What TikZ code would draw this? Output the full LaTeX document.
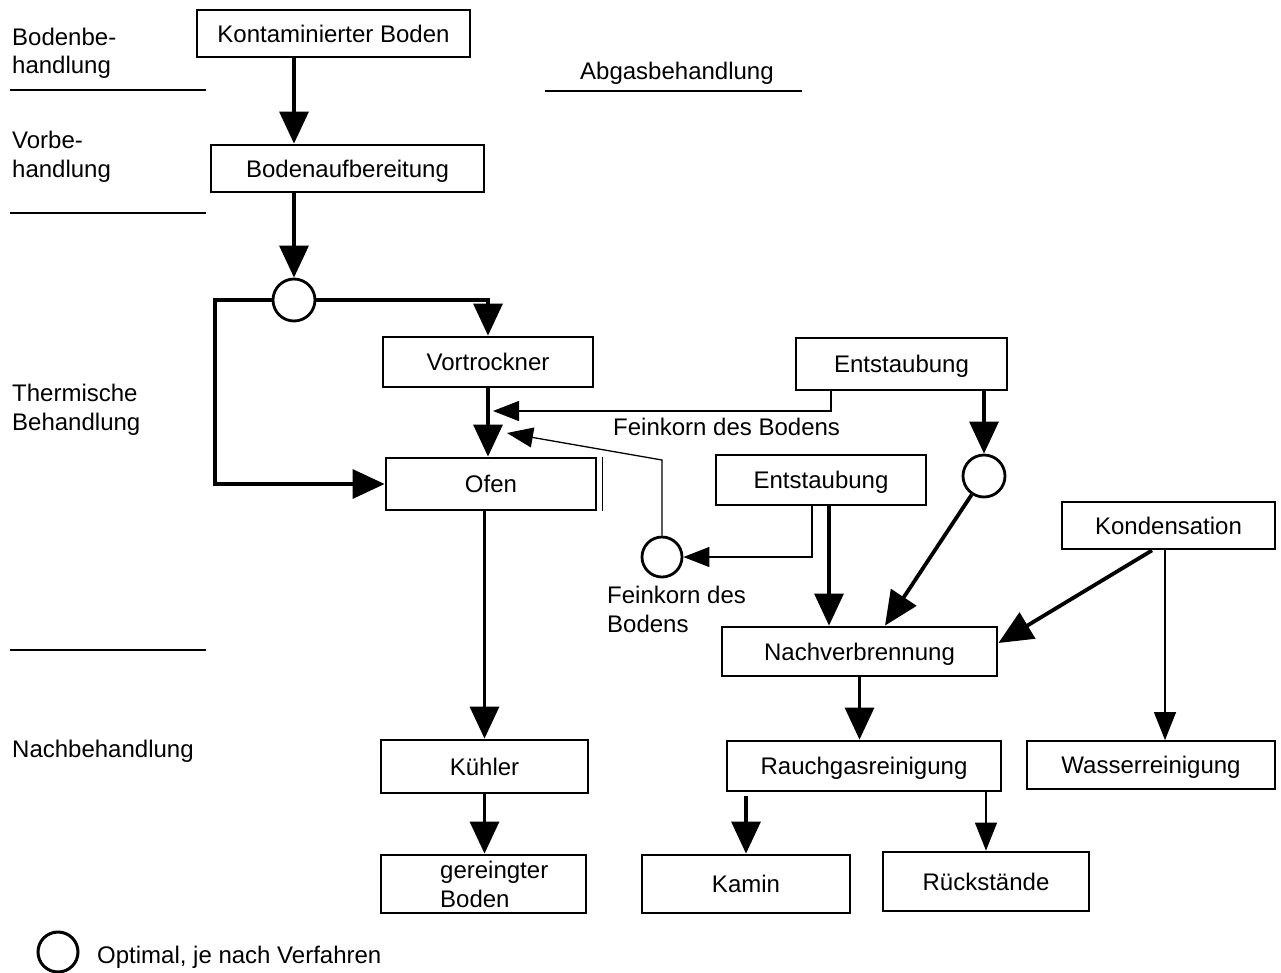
\documentclass[tikz,border=0pt]{standalone}
\usepackage{fontspec}
\setmainfont{Liberation Sans}
\usetikzlibrary{arrows.meta,calc}
\begin{document}
\begin{tikzpicture}[x=1pt,y=-1pt,
  every node/.style={font=\fontsize{24}{29}\selectfont},
  box/.style={draw, line width=2.8pt, inner sep=0pt, text height=17pt, text depth=0pt, fill=white},
  lbl/.style={anchor=base west, inner sep=0pt},
  opt/.style={draw, circle, line width=2.8pt, fill=white, inner sep=0pt},
  flow/.style={line width=3.2pt, -{Triangle[length=32pt,width=29pt]}},
  diagflow/.style={line width=3.8pt, -{Triangle[length=34pt,width=30pt]}},
  fine/.style={line width=1.3pt, -{Triangle[length=26pt,width=20pt]}},
  thinflow/.style={line width=1.3pt, -{Triangle[length=28pt,width=22pt]}},
  divider/.style={line width=1.3pt},
  thickdivider/.style={line width=2.8pt}
]
\useasboundingbox (0,0) rectangle (1281,972);

% left section labels
\node[lbl] (s1a) at (12,45) {Bodenbe-};
\node[lbl] (s1b) at (12,73) {handlung};
\draw[thickdivider] (10,90) -- (206,90);
\node[lbl] (s2a) at (12,148) {Vorbe-};
\node[lbl] (s2b) at (12,177) {handlung};
\draw[divider] (10,213) -- (206,213);
\node[lbl] (s3a) at (12,401) {Thermische};
\node[lbl] (s3b) at (12,430) {Behandlung};
\draw[divider] (10,650) -- (206,650);
\node[lbl] (s4) at (12,757) {Nachbehandlung};
\node[lbl] (abg) at (580,79) {Abgasbehandlung};
\draw[thickdivider] (545,91) -- (802,91);

% boxes
\node[box, minimum width=273pt, minimum height=47pt] (kont) at (333.5,33.5) {Kontaminierter Boden};
\node[box, minimum width=273pt, minimum height=47pt] (aufb) at (347.5,168.5) {Bodenaufbereitung};
\node[opt, minimum size=42pt] (c1) at (294,300) {};
\node[box, minimum width=210pt, minimum height=50pt] (vort) at (488,362) {Vortrockner};
\node[box, minimum width=210pt, minimum height=52pt] (ofen) at (491,484) {Ofen};
\node[box, minimum width=211pt, minimum height=52pt] (ent1) at (901.5,364) {Entstaubung};
\node[box, minimum width=210pt, minimum height=50pt] (ent2) at (821,480) {Entstaubung};
\node[opt, minimum size=42pt] (c2) at (984,476) {};
\node[opt, minimum size=40pt] (c3) at (662,557) {};
\node[box, minimum width=213pt, minimum height=47pt] (kond) at (1168.5,525.5) {Kondensation};
\node[box, minimum width=275pt, minimum height=49pt] (nach) at (859.5,651.5) {Nachverbrennung};
\node[box, minimum width=274pt, minimum height=50pt] (rauch) at (864,766) {Rauchgasreinigung};
\node[box, line width=1.8pt, minimum width=248pt, minimum height=48pt] (wasser) at (1151,765) {Wasserreinigung};
\node[box, minimum width=207pt, minimum height=53pt] (kuehl) at (484.5,766.5) {Kühler};
\node[box, minimum width=205pt, minimum height=58pt] (gerein) at (483.5,884) {};
\node[lbl] (gt1) at (440,878) {gereingter};
\node[lbl] (gt2) at (440,907) {Boden};
\node[box, minimum width=208pt, minimum height=58pt] (kamin) at (746,884) {Kamin};
\node[box, minimum width=206pt, minimum height=59pt] (rueck) at (986,881.5) {Rückstände};

% extra line beside Ofen
\draw[line width=1pt] ([xshift=5pt]ofen.north east) -- ([xshift=5pt]ofen.south east);

% labels
\node[lbl] (fk1) at (613,435) {Feinkorn des Bodens};
\node[lbl] (fk2a) at (607,603) {Feinkorn des};
\node[lbl] (fk2b) at (607,632) {Bodens};

% connectors
\draw[flow] (kont.south -| c1) -- (aufb.north -| c1);
\draw[flow] (aufb.south -| c1) -- (c1.north);
\coordinate (byp) at (215,390);
\draw[flow] (c1.west) -| (byp) |- (ofen.west);
\draw[flow] (c1.east) -| (vort.north);
\draw[flow] (vort.south) -- (vort.south |- ofen.north);
\draw[flow] (kuehl.north |- ofen.south) -- (kuehl.north);
\draw[flow] (kuehl.south) -- (kuehl.south |- gerein.north);

\coordinate (f1) at (831,411);
\coordinate (f1tip) at (493,411);
\draw[fine] (ent1.south -| f1) -- (f1) -- (f1tip);
\draw[flow] (ent1.south -| c2) -- (c2.north);
\draw[diagflow] (c2) -- ([xshift=25.5pt]nach.north);
\draw[flow] ([xshift=8pt]ent2.south) -- ([xshift=8pt]ent2.south |- nach.north);
\draw[fine] ([xshift=-9pt]ent2.south) |- (c3.east);
\coordinate (f2bend) at (662,460);
\coordinate (f2tip) at (507,433);
\draw[fine] (c3.north) -- (f2bend) -- (f2tip);
\draw[diagflow] ([xshift=-16.5pt]kond.south) -- ([yshift=8.5pt]nach.east);
\draw[thinflow] ([xshift=-3.5pt]kond.south) -- ([xshift=-3.5pt]kond.south |- wasser.north);
\draw[flow] (nach.south) -- (nach.south |- rauch.north);
\draw[flow, shorten <=4pt] (kamin.north |- rauch.south) -- (kamin.north);
\draw[thinflow] (rueck.north |- rauch.south) -- (rueck.north);

% legend
\node[opt, line width=3pt, minimum size=40pt] (legc) at (58,952) {};
\node[lbl] (legt) at (97,963) {Optimal, je nach Verfahren};
\end{tikzpicture}
\end{document}
